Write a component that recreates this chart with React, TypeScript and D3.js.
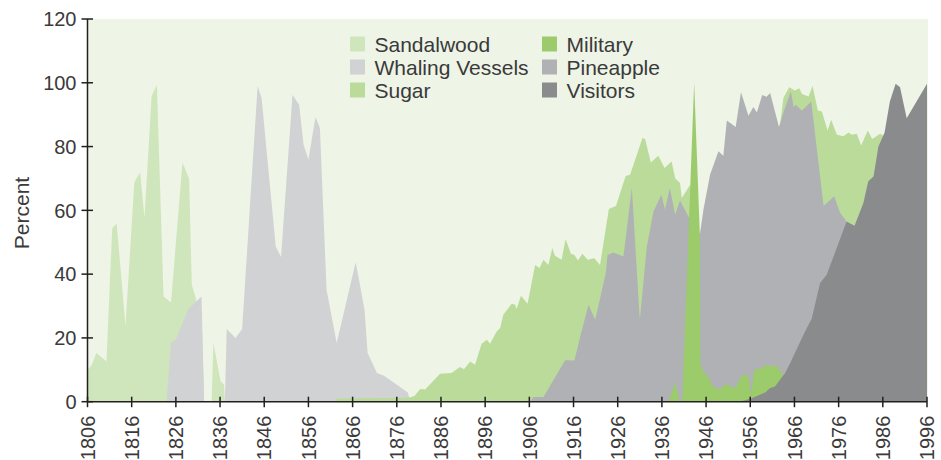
import React from "react";
import * as d3 from "d3";

// [year, percent]
const sandalwood: [number, number][] = [
  [1806, 10], [1807, 11.6], [1808, 15.3], [1810.3, 12.6], [1811.6, 54.4], [1812.6, 55.8],
  [1814.6, 23.6], [1816.6, 68.8], [1817.9, 71.9], [1818.9, 57.6], [1820.5, 95.7], [1821.7, 99.4],
  [1823.2, 33], [1824.9, 31.1], [1827.5, 75], [1829, 69.8], [1829.6, 36.7], [1830.7, 31.4],
  [1831.8, 28], [1832.4, 0], [1834.1, 0], [1834.5, 18.5], [1836.1, 6.4], [1836.9, 5.3], [1837.1, 0],
];

const whaling: [number, number][] = [
  [1823.9, 0], [1824.9, 18.6], [1826, 19.4], [1828.8, 29], [1831.8, 33], [1832.4, 0],
  [1837.1, 0], [1837.5, 22.8], [1839.5, 20], [1841, 22.8], [1844.5, 99], [1845.4, 95.2],
  [1848.6, 48.7], [1849.8, 45.4], [1852.4, 96.2], [1853.9, 93.1], [1854.9, 80.6], [1856, 75.9],
  [1857.6, 89.2], [1858.6, 85.8], [1860.1, 35.1], [1862.4, 18.4], [1866.7, 43.7], [1868.7, 28.8],
  [1869.4, 15.3], [1871.5, 9], [1873, 8.2], [1874.9, 6.4], [1878.5, 2.9], [1878.8, 1.3], [1879, 0],
];

const sugar: [number, number][] = [
  [1862, 0], [1862.5, 1], [1878.6, 1.2], [1880, 1.8], [1881.3, 4], [1882.4, 3.8], [1885.8, 8.8],
  [1888.4, 9], [1890.3, 10.9], [1891.2, 10.2], [1892.6, 12.6], [1893.7, 11.6], [1895.2, 18.2],
  [1896.4, 19.4], [1897.1, 18.2], [1898.6, 22], [1899.4, 23.1], [1900.1, 27.3], [1902, 30.7],
  [1902.8, 30.4], [1903.1, 29], [1904.1, 33.2], [1905.6, 30.7], [1907.3, 42.9], [1908.3, 41.9],
  [1909.2, 44.5], [1910.3, 42.9], [1911.2, 48.2], [1911.8, 45.8], [1913.3, 44.5], [1914.2, 51],
  [1915.4, 46.4], [1916.2, 46], [1917, 44.3], [1918, 46.4], [1919.2, 44.5], [1920.7, 45],
  [1922, 42.9], [1924, 60.4], [1925.6, 61.4], [1927.8, 70.8], [1928.8, 71.2], [1931.6, 82.7],
  [1932.2, 82.4], [1933.5, 75], [1935.2, 77.1], [1936.6, 73.3], [1938.2, 75.3], [1939, 70.1],
  [1940.1, 68.6], [1940.5, 63.9], [1942.4, 68], [1944.5, 48], [1950, 65], [1956, 85],
  [1962.7, 86.3], [1963.5, 95.2], [1964.8, 98.6], [1966.1, 97.6], [1967.1, 98.3], [1967.7, 96.5],
  [1969.2, 95.7], [1970.1, 99], [1971.3, 91.3], [1972.2, 91], [1973.5, 85], [1974.3, 88.4],
  [1975.6, 83.7], [1977.1, 83.2], [1978.2, 84.4], [1979, 83.7], [1980.1, 84], [1981.1, 80.3],
  [1982.6, 85], [1983.6, 82.4], [1985.4, 84], [1990, 80], [1996, 78],
];

const pineapple: [number, number][] = [
  [1906.2, 0], [1906.9, 1.5], [1909.2, 1.5], [1914.1, 13], [1916.2, 12.9], [1917.7, 21.5],
  [1919.4, 30.4], [1920.9, 25.7], [1923.3, 40.3], [1923.7, 46], [1925, 46.8], [1927.3, 45.5],
  [1929.2, 67], [1931, 25.7], [1932.6, 48.7], [1934.1, 59.7], [1935.9, 64.9], [1936.7, 60.2],
  [1937.8, 67], [1939, 58.6], [1940.1, 63.1], [1942, 58.1], [1943.5, 55], [1944.6, 52.4],
  [1945.4, 60.2], [1946.9, 71.2], [1948.8, 78.5], [1949.9, 77.1], [1950.7, 88.2], [1952.7, 86.1],
  [1953.9, 97], [1955.6, 89.7], [1956.7, 92.4], [1957.5, 90.7], [1958.7, 96.2], [1959.7, 95.6],
  [1960.5, 96.8], [1962.5, 86.1], [1963.7, 91.5], [1965.2, 97.3], [1965.8, 92.4], [1966.3, 93.1],
  [1967.7, 91.3], [1969.8, 94.1], [1972.6, 61.4], [1975, 64.4], [1976.3, 59.3], [1977.8, 56.5],
  [1980, 50], [1990, 35], [1996, 25],
];

const military: [number, number][] = [
  [1937.5, 0], [1939, 6], [1940, 0], [1940.6, 0], [1943.3, 100], [1944.6, 52], [1944.7, 12],
  [1945.5, 9], [1946.5, 7.9], [1947.3, 5.3], [1948.4, 4], [1949.2, 4], [1950.7, 5.6], [1951.2, 5],
  [1952.6, 4.3], [1954.1, 8.2], [1955.6, 8.2], [1956.2, 2.2], [1956.9, 10.2], [1958.2, 10.2],
  [1959.7, 11.6], [1960.2, 11], [1961.8, 11.4], [1963.1, 9], [1964, 7], [1970, 5], [1996, 3],
];

const visitors: [number, number][] = [
  [1953.7, 0], [1956.3, 1.1], [1959.4, 2.9], [1960.5, 4.3], [1961.6, 4.8], [1963.1, 7.6],
  [1963.9, 9], [1965, 12], [1966.1, 15.3], [1968.4, 22], [1969.9, 26], [1971.8, 37.2],
  [1973.3, 39.8], [1977.8, 56.5], [1979.6, 55.2], [1981.6, 62.3], [1982.7, 69.1], [1983.9, 70.6],
  [1985, 80], [1986.4, 84.4], [1987.6, 94.1], [1988.9, 99.7], [1989.9, 98.6], [1991.4, 88.9],
  [1996, 99.7],
];

const xTicks = d3.range(1806, 1997, 10);
const yTicks = [0, 20, 40, 60, 80, 100, 120];

// drawing order matters: later series cover earlier ones
const series = [
  { name: "Sandalwood", data: sandalwood, color: "#cfe5bb" },
  { name: "Whaling Vessels", data: whaling, color: "#d1d2d4" },
  { name: "Sugar", data: sugar, color: "#bbdb9b" },
  { name: "Pineapple", data: pineapple, color: "#afb1b4" },
  { name: "Military", data: military, color: "#9bcb6b" },
  { name: "Visitors", data: visitors, color: "#8a8b8d" },
];

const legendCols = [
  ["Sandalwood", "Whaling Vessels", "Sugar"],
  ["Military", "Pineapple", "Visitors"],
];

const width = 941;
const height = 460;
const left = 87.5;
const right = 927;
const top = 19;
const bottom = 401.7;
const font = "'Liberation Sans', Arial, Helvetica, sans-serif";
const textColor = "#3a3a3a";

export default function App() {
  const x = d3.scaleLinear().domain([1806, 1996]).range([left, right]);
  const y = d3.scaleLinear().domain([0, 120]).range([bottom, top]);

  const area = d3
    .area<[number, number]>()
    .x((d) => x(d[0]))
    .y0(y(0))
    .y1((d) => y(d[1]));

  const colorOf = (name: string) => series.find((s) => s.name === name)!.color;

  return (
    <svg
      width={width}
      height={height}
      style={{ position: "absolute", left: 0, top: 0, background: "#fff" }}
      fontFamily={font}
    >
      <rect x={left} y={top} width={right - left + 1} height={bottom - top} fill="#eef4e6" />

      {series.map((s) => (
        <path key={s.name} d={area(s.data) || ""} fill={s.color} />
      ))}

      {/* legend */}
      {legendCols.map((col, ci) =>
        col.map((name, ri) => {
          const lx = ci === 0 ? 350 : 542;
          const ly = 44 + ri * 23;
          return (
            <g key={name}>
              <rect x={lx} y={ly - 7.5} width={15} height={15} fill={colorOf(name)} />
              <text x={lx + 24.5} y={ly} dy="0.36em" fontSize={21} fill={textColor}>
                {name}
              </text>
            </g>
          );
        })
      )}

      {/* y axis */}
      <line x1={left} x2={left} y1={top} y2={bottom} stroke="#231f20" strokeWidth={1.5} />
      {yTicks.map((t) => (
        <g key={t}>
          <line x1={left - 6} x2={left + 5.5} y1={y(t)} y2={y(t)} stroke="#231f20" strokeWidth={1.5} />
          <text x={left - 11} y={y(t)} dy="0.36em" textAnchor="end" fontSize={20} fill={textColor}>
            {t}
          </text>
        </g>
      ))}
      <text
        transform={`translate(21,213) rotate(-90)`}
        textAnchor="middle"
        dy="0.36em"
        fontSize={21}
        fill={textColor}
      >
        Percent
      </text>

      {/* x axis */}
      <line x1={left} x2={right} y1={bottom} y2={bottom} stroke="#231f20" strokeWidth={1.5} />
      {xTicks.map((t) => (
        <g key={t}>
          <line x1={x(t)} x2={x(t)} y1={bottom - 5} y2={bottom + 5.5} stroke="#231f20" strokeWidth={1.5} />
          <text
            transform={`translate(${x(t)},${bottom + 14}) rotate(-90)`}
            textAnchor="end"
            dy="0.36em"
            fontSize={20}
            fill={textColor}
          >
            {t}
          </text>
        </g>
      ))}
    </svg>
  );
}
